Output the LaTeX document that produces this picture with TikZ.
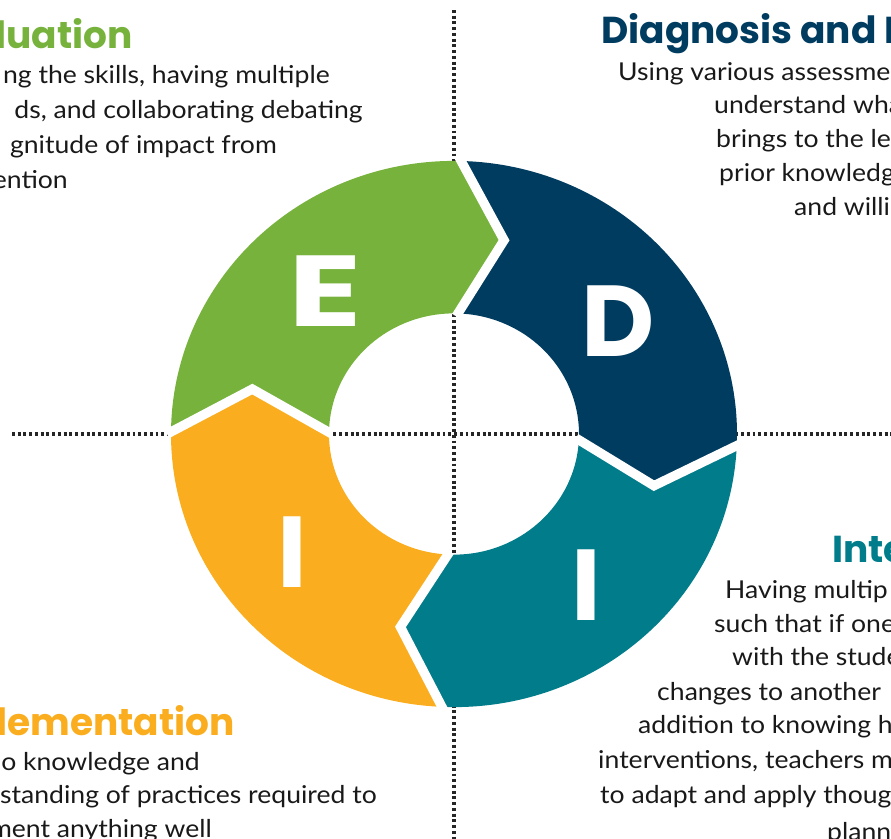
\documentclass[tikz,border=0pt]{standalone}
\usepackage{fontspec}
\setmainfont{Lato}[FakeStretch=1.08]
\newfontfamily\headfont{Poppins}
\definecolor{evalgreen}{HTML}{76B23C}
\definecolor{diagblue}{HTML}{003C5F}
\definecolor{intteal}{HTML}{007C8A}
\definecolor{implorange}{HTML}{FAAD1E}
\tikzset{
  axisline/.style={line width=2.6pt, dash pattern=on 2.5pt off 2.4pt, black!85},
  gapline/.style={white, line width=8pt, line join=miter},
  ringletter/.style={white, font=\headfont\bfseries\fontsize{86}{86}\selectfont, inner sep=0pt},
  headtext/.style={font=\headfont\bfseries\fontsize{32}{32}\selectfont, inner sep=0pt},
  bodytext/.style={font=\fontsize{21}{25}\selectfont, inner sep=0pt, text=black!90},
}
\begin{document}
\begin{tikzpicture}[x=0.03cm, y=-0.03cm]
  \useasboundingbox (0,0) rectangle (891,839);
  \clip (0,0) rectangle (891,839);
  \draw[axisline] (454,10) -- (454,839);
  \draw[axisline] (12,434) -- (891,434);
  \begin{scope}[shift={(454,434)}, yscale=-0.965]
    \foreach \a/\b/\col in {180/89/evalgreen, 89/-2/diagblue, -2/-92/intteal, -92/-180/implorange}
      \fill[\col] (\a:283) arc[start angle=\a, end angle=\b, radius=283] -- ({\b-13}:207)
        -- (\b:125) arc[start angle=\b, end angle=\a, radius=125] -- ({\a-13}:207) -- cycle;
    \foreach \a in {180, 89, -2, -92}
      \draw[gapline] (\a:287) -- ({\a-13}:207) -- (\a:122);
  \end{scope}
  \node[ringletter, xscale=1.35, transform shape] (letterE) at (325,291) {E};
  \node[ringletter] (letterD) at (618,321) {D};
  \node[ringletter] (letterIteal) at (586,585) {I};
  \node[ringletter] (letterIorange) at (292,552) {I};
  \node[headtext, text=evalgreen, anchor=base east] (evalhead) at (133,48) {luation};
  \foreach \x/\y/\txt [count=\i] in {330/83/{ng the skills, having multiple}, 363/118/{ds, and collaborating debating},
      277/153/{gnitude of impact from}, 68/188/{ention}}
    \node[bodytext, anchor=base east] (evalline\i) at (\x,\y) {\txt};
  \node[headtext, text=diagblue, anchor=base west] (diaghead) at (601,43) {Diagnosis and I};
  \foreach \x/\y/\txt [count=\i] in {618/80/{Using various assessme}, 714/113/{understand wha},
      716/147/{brings to the le}, 719/181/{prior knowledg}, 794/215/{and willi}}
    \node[bodytext, anchor=base west] (diagline\i) at (\x,\y) {\txt};
  \node[headtext, text=intteal, anchor=base west] (inthead) at (832,562) {Inte};
  \foreach \x/\y/\txt [count=\i] in {725/598/{Having multip}, 714/632/{such that if one}, 732/665/{with the stude},
      657/700/{changes to another}, 638/733/{addition to knowing h}, 598/768/{interventions, teachers m},
      600/803/{to adapt and apply thoug}, 827/840/{plann}}
    \node[bodytext, anchor=base west] (intline\i) at (\x,\y) {\txt};
  \node[headtext, text=implorange, anchor=base east] (implhead) at (235,735) {lementation};
  \foreach \x/\y/\txt [count=\i] in {200/770/{o knowledge and}, 377/803/{standing of practices required to},
      212/837/{ment anything well}}
    \node[bodytext, anchor=base east] (implline\i) at (\x,\y) {\txt};
\end{tikzpicture}
\end{document}
